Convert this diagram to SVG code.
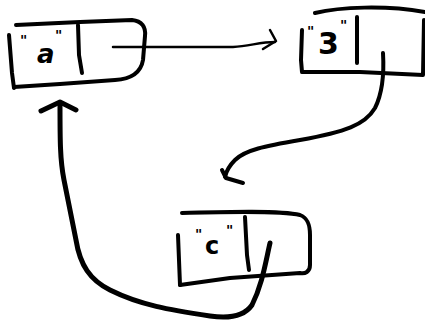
<svg xmlns="http://www.w3.org/2000/svg" width="425" height="323" viewBox="0 0 425 323">
  <style>
    .box { fill: none; stroke: #000; stroke-width: 4; stroke-linecap: round; stroke-linejoin: round; }
    .wire { fill: none; stroke: #000; stroke-linecap: round; stroke-linejoin: round; }
    .lbl { font-family: "DejaVu Sans", sans-serif; font-weight: bold; fill: #000; }
    .q { font-size: 14px; }
  </style>
  <rect width="425" height="323" fill="#fff"/>

  <!-- list cell holding "a" -->
  <g id="node-a">
    <path class="box" d="M 9 35 L 12 73 L 14 88"/>
    <path class="box" d="M 16 25 L 80 22 L 132 20 C 142 21 146 27 145 36 L 143 60 C 141 72 132 79 115 80 L 60 84 L 14 87"/>
    <path class="box" d="M 78 25 L 79 55 L 82 73"/>
    <text class="lbl"><tspan class="q" x="20" y="45">"</tspan><tspan x="37" y="63" font-size="26" font-style="italic">a</tspan><tspan class="q" x="55" y="40">"</tspan></text>
  </g>

  <!-- list cell holding "3" -->
  <g id="node-3">
    <path class="box" d="M 315 13 C 340 7 385 5 425 12"/>
    <path class="box" d="M 302 30 L 301 60 L 302 72 L 360 72 L 423 75 L 424 20"/>
    <path class="box" d="M 357 17 L 357 63"/>
    <text class="lbl"><tspan class="q" x="307" y="36">"</tspan><tspan x="318" y="54" font-size="30">3</tspan><tspan class="q" x="340" y="30">"</tspan></text>
  </g>

  <!-- list cell holding "c" -->
  <g id="node-c">
    <path class="box" d="M 182 213 C 220 212 280 210 300 215 C 308 218 310 225 310 235 L 310 265 C 310 272 305 274 300 273 L 230 278 L 180 285"/>
    <path class="box" d="M 178 235 L 180 285"/>
    <path class="box" d="M 245 217 L 247 255 L 249 270"/>
    <text class="lbl"><tspan class="q" x="195" y="239">"</tspan><tspan x="205" y="254" font-size="24">c</tspan><tspan class="q" x="226" y="235">"</tspan></text>
  </g>

  <!-- pointers between cells -->
  <g id="connectors">
    <path class="wire" stroke-width="2.5" d="M 113 47 L 233 47 C 250 46 260 42 275 42"/>
    <path class="wire" stroke-width="2.5" d="M 270 30 L 276 41 L 263 49"/>

    <path class="wire" stroke-width="4" d="M 383 53 C 384 70 384 90 375 108 C 365 125 345 132 300 140 C 265 146 245 150 235 160 C 228 167 226 172 225 177"/>
    <path class="wire" stroke-width="4" d="M 222 170 L 226 178 L 243 183"/>

    <path class="wire" stroke-width="5" d="M 270 243 C 265 265 262 285 252 305 C 245 315 230 319 210 316 C 170 310 140 305 110 290 C 90 280 80 265 76 240 L 64 180 C 60 160 60 140 60 103"/>
    <path class="wire" stroke-width="5" d="M 41 111 L 60 102 L 76 110"/>
  </g>
</svg>
